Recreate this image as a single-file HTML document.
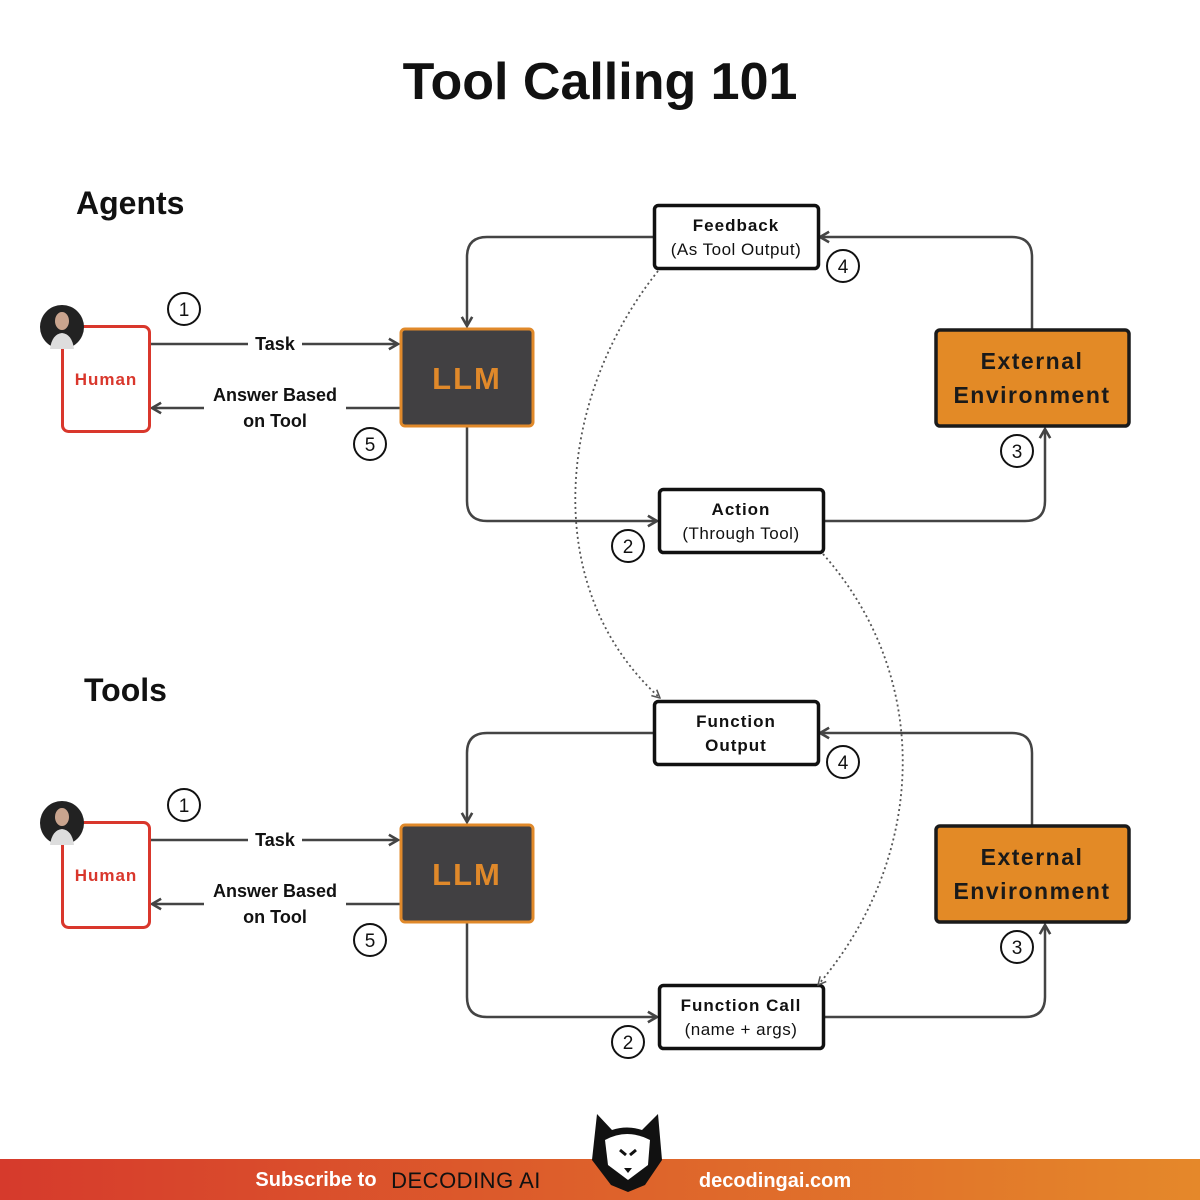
<!DOCTYPE html>
<html><head><meta charset="utf-8"><style>
html,body{margin:0;padding:0;background:#fff;width:1200px;height:1200px;overflow:hidden}
svg{display:block}
text{font-family:"Liberation Sans",sans-serif}
</style></head><body>
<svg width="1200" height="1200" viewBox="0 0 1200 1200" xmlns="http://www.w3.org/2000/svg">
<defs>
<marker id="ar" viewBox="0 0 10 10" refX="9" refY="5" markerWidth="13" markerHeight="13" orient="auto-start-reverse" markerUnits="userSpaceOnUse">
<path d="M2,1 L9,5 L2,9" fill="none" stroke="#444" stroke-width="2"/></marker>
<marker id="ad" viewBox="0 0 10 10" refX="9" refY="5" markerWidth="10" markerHeight="10" orient="auto" markerUnits="userSpaceOnUse">
<path d="M1,1 L9,5 L1,9" fill="none" stroke="#555" stroke-width="1.5"/></marker>
<linearGradient id="fg" x1="0" x2="1"><stop offset="0" stop-color="#d63a2c"/><stop offset="1" stop-color="#e5882a"/></linearGradient>
<g id="sec">
 <g fill="none" stroke="#444" stroke-width="2.5">
  <path d="M150,344 H248 M302,344 H398" marker-end="url(#ar)"/>
  <path d="M400,408 H346 M204,408 H152" marker-end="url(#ar)"/>
  <path d="M654,237 H487 Q467,237 467,257 V326" marker-end="url(#ar)"/>
  <path d="M1032,329 V257 Q1032,237 1012,237 H820" marker-end="url(#ar)"/>
  <path d="M467,427 V501 Q467,521 487,521 H657" marker-end="url(#ar)"/>
  <path d="M823,521 H1025 Q1045,521 1045,501 V429" marker-end="url(#ar)"/>
 </g>
 <rect x="62.5" y="326.5" width="87" height="105" rx="6" fill="#fff" stroke="#d9372c" stroke-width="3"/>
 <text x="106" y="385" text-anchor="middle" font-size="17" font-weight="bold" fill="#d9372c" letter-spacing="1">Human</text>
 <circle cx="62" cy="327" r="22" fill="#222"/>
 <ellipse cx="62" cy="321" rx="7" ry="9" fill="#c9a48e"/>
 <path d="M50,349 Q52,334 62,333 Q72,334 74,349Z" fill="#ddd"/>
 <rect x="401" y="329" width="132" height="97" rx="4" fill="#414042" stroke="#e0892a" stroke-width="3"/>
 <text x="467" y="389" text-anchor="middle" font-size="31" font-weight="bold" fill="#e0892a" letter-spacing="2">LLM</text>
 <text x="275" y="350" text-anchor="middle" font-size="18" font-weight="bold" fill="#111">Task</text>
 <text x="275" y="401" text-anchor="middle" font-size="18" font-weight="bold" fill="#111">Answer Based</text>
 <text x="275" y="427" text-anchor="middle" font-size="18" font-weight="bold" fill="#111">on Tool</text>
 <rect x="936" y="330" width="193" height="96" rx="4" fill="#e38a26" stroke="#1a1a1a" stroke-width="3.5"/>
 <text x="1032" y="369" text-anchor="middle" font-size="23" font-weight="bold" fill="#1a1a1a" letter-spacing="1.5">External</text>
 <text x="1032" y="403" text-anchor="middle" font-size="23" font-weight="bold" fill="#1a1a1a" letter-spacing="1.5">Environment</text>
 <g fill="#fff" stroke="#111" stroke-width="2">
  <circle cx="184" cy="309" r="16"/><circle cx="370" cy="444" r="16"/>
  <circle cx="843" cy="266" r="16"/><circle cx="1017" cy="451" r="16"/><circle cx="628" cy="546" r="16"/>
 </g>
 <g font-size="19" text-anchor="middle" fill="#111">
  <text x="184" y="316">1</text><text x="370" y="451">5</text>
  <text x="843" y="273">4</text><text x="1017" y="458">3</text><text x="628" y="553">2</text>
 </g>
</g>
</defs>

<text x="600" y="99" text-anchor="middle" font-size="52" font-weight="bold" fill="#111">Tool Calling 101</text>
<text x="76" y="214" font-size="32" font-weight="bold" fill="#111">Agents</text>
<text x="84" y="701" font-size="32" font-weight="bold" fill="#111">Tools</text>

<use href="#sec"/>
<use href="#sec" transform="translate(0,496)"/>

<rect x="654.5" y="205.5" width="164" height="63" rx="4" fill="#fff" stroke="#111" stroke-width="3.5"/>
<text x="736" y="231" text-anchor="middle" font-size="17" font-weight="bold" fill="#111" letter-spacing="1">Feedback</text>
<text x="736" y="255" text-anchor="middle" font-size="17" fill="#111" letter-spacing="0.5">(As Tool Output)</text>
<rect x="659.5" y="489.5" width="164" height="63" rx="4" fill="#fff" stroke="#111" stroke-width="3.5"/>
<text x="741" y="515" text-anchor="middle" font-size="17" font-weight="bold" fill="#111" letter-spacing="1">Action</text>
<text x="741" y="539" text-anchor="middle" font-size="17" fill="#111" letter-spacing="0.5">(Through Tool)</text>
<rect x="654.5" y="701.5" width="164" height="63" rx="4" fill="#fff" stroke="#111" stroke-width="3.5"/>
<text x="736" y="727" text-anchor="middle" font-size="17" font-weight="bold" fill="#111" letter-spacing="1">Function</text>
<text x="736" y="751" text-anchor="middle" font-size="17" font-weight="bold" fill="#111" letter-spacing="1">Output</text>
<rect x="659.5" y="985.5" width="164" height="63" rx="4" fill="#fff" stroke="#111" stroke-width="3.5"/>
<text x="741" y="1011" text-anchor="middle" font-size="17" font-weight="bold" fill="#111" letter-spacing="1">Function Call</text>
<text x="741" y="1035" text-anchor="middle" font-size="17" fill="#111" letter-spacing="0.5">(name + args)</text>

<g fill="none" stroke="#555" stroke-width="1.8" stroke-dasharray="2,3">
 <path d="M658,271 C555,400 540,590 660,698" marker-end="url(#ad)"/>
 <path d="M823,554 C935,680 925,860 818,985" marker-end="url(#ad)"/>
</g>

<rect x="0" y="1159" width="1200" height="41" fill="url(#fg)"/>
<text x="316" y="1186" text-anchor="middle" font-size="20" font-weight="bold" fill="#fff">Subscribe to</text>
<text x="466" y="1188" text-anchor="middle" font-size="22" fill="#111" letter-spacing="0.5">DECODING AI</text>
<text x="775" y="1187" text-anchor="middle" font-size="20" font-weight="bold" fill="#fff">decodingai.com</text>
<path d="M597,1114 L612,1130 Q627,1125 642,1130 L658,1114 L662,1160 L645,1185 L628,1192 L611,1185 L592,1160Z" fill="#111"/>
<path d="M605,1140 Q627,1128 650,1140 L648,1165 L628,1180 L608,1165Z" fill="#fff"/>
<path d="M620,1150 L626,1155 M636,1150 L630,1155" stroke="#111" stroke-width="3"/>
<path d="M624,1168 L632,1168 L628,1173Z" fill="#111"/>
</svg>
</body></html>
